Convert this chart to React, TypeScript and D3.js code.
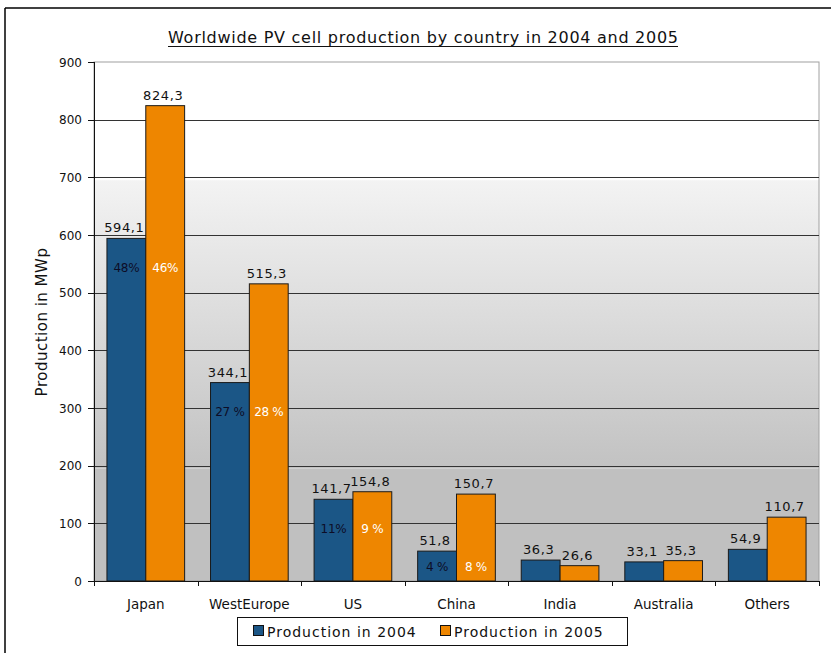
import React from "react";
import * as d3 from "d3";

const countries = ["Japan", "WestEurope", "US", "China", "India", "Australia", "Others"];
const production2004 = [594.1, 344.1, 141.7, 51.8, 36.3, 33.1, 54.9];
const production2005 = [824.3, 515.3, 154.8, 150.7, 26.6, 35.3, 110.7];
const share2004 = ["48%", "27 %", "11%", "4 %", "", "", ""];
const share2005 = ["46%", "28 %", "9 %", "8 %", "", "", ""];
const seriesNames = ["Production in 2004", "Production in 2005"];
const yTicks = [0, 100, 200, 300, 400, 500, 600, 700, 800, 900];

const W = 831;
const H = 653;
const FONT = "'DejaVu Sans', Verdana, sans-serif";
const BLUE = "#1b5686";
const ORANGE = "#ee8600";

const fmt = (v: number) => v.toFixed(1).replace(".", ",");

export default function App() {
  const left = 94;
  const right = 819;
  const top = 62;
  const bottom = 581;

  const x = d3.scaleBand<string>().domain(countries).range([left, right]).paddingInner(0.25).paddingOuter(0.125);
  const xs = d3.scaleBand<number>().domain([0, 1]).range([0, x.bandwidth()]).padding(0);
  const y = d3.scaleLinear().domain([0, 900]).range([bottom, top]);

  const series = [production2004, production2005];
  const shares = [share2004, share2005];
  const step = x.step();
  const bounds = d3.range(countries.length + 1).map((i) => left + i * step);

  return (
    <svg width={W} height={H} style={{ position: "absolute", left: 0, top: 0, display: "block" }}>
      <defs>
        <linearGradient id="plotFill" gradientUnits="userSpaceOnUse" x1={0} y1={y(695)} x2={0} y2={y(195)}>
          <stop offset="0" stopColor="#f3f3f3" />
          <stop offset="1" stopColor="#c2c2c2" />
        </linearGradient>
      </defs>
      <rect x={0} y={0} width={W} height={H} fill="#ffffff" />
      {/* frame */}
      <line x1={5} y1={8} x2={W} y2={8} stroke="#000" strokeWidth={1.5} />
      <line x1={5} y1={8} x2={5} y2={H} stroke="#000" strokeWidth={1.5} />

      {/* title */}
      <text x={168} y={43} fontFamily={FONT} fontSize={16} fill="#111" textLength={510} lengthAdjust="spacing">
        Worldwide PV cell production by country in 2004 and 2005
      </text>
      <line x1={168} x2={678} y1={46.5} y2={46.5} stroke="#111" strokeWidth={1} />

      {/* plot background */}
      <rect x={left} y={top} width={right - left} height={y(695) - top} fill="#ffffff" />
      <rect x={left} y={y(695)} width={right - left} height={y(195) - y(695)} fill="url(#plotFill)" />
      <rect x={left} y={y(195)} width={right - left} height={bottom - y(195)} fill="#c0c0c0" />
      <rect x={left} y={top} width={right - left} height={bottom - top} fill="none" stroke="#a0a0a0" strokeWidth={1} />

      {/* grid */}
      {yTicks.filter((t) => t > 0 && t < 900).map((t) => (
        <line key={t} x1={left} x2={right} y1={Math.round(y(t)) + 0.5} y2={Math.round(y(t)) + 0.5} stroke="#333" strokeWidth={1} />
      ))}

      {/* bars */}
      {countries.map((c, i) => (
        <g key={c}>
          {series.map((s, k) => {
            const bx = (x(c) as number) + (xs(k) as number);
            const by = y(s[i]);
            return (
              <rect key={k} x={bx} y={by} width={xs.bandwidth()} height={bottom - by} fill={k === 0 ? BLUE : ORANGE} stroke="#1a1a1a" strokeWidth={1} />
            );
          })}
        </g>
      ))}

      {/* value labels */}
      {countries.map((c, i) => (
        <g key={c}>
          {series.map((s, k) => {
            const cx = (x(c) as number) + (xs(k) as number) + xs.bandwidth() / 2;
            return (
              <text key={k} x={cx - 2} y={y(s[i]) - 6} textAnchor="middle" fontFamily={FONT} fontSize={13} letterSpacing={0.6} fill="#111">
                {fmt(s[i])}
              </text>
            );
          })}
        </g>
      ))}

      {/* share labels, aligned with the 2004 bar */}
      {countries.map((c, i) => {
        const t0 = y(production2004[i]);
        const ly = t0 + Math.min(29, (bottom - t0) / 2) + 4.5;
        return (
          <g key={c}>
            {shares.map((sh, k) => {
              if (!sh[i]) return null;
              const cx = (x(c) as number) + (xs(k) as number) + xs.bandwidth() / 2;
              return (
                <text key={k} x={cx} y={ly} textAnchor="middle" fontFamily={FONT} fontSize={12} letterSpacing={-0.3} fill={k === 0 ? "#0d0d26" : "#ffffff"}>
                  {sh[i]}
                </text>
              );
            })}
          </g>
        );
      })}

      {/* axes */}
      <line x1={left + 0.5} x2={left + 0.5} y1={top} y2={bottom + 0.5} stroke="#111" strokeWidth={1} />
      <line x1={left} x2={right + 0.5} y1={bottom + 0.5} y2={bottom + 0.5} stroke="#111" strokeWidth={1} />
      {yTicks.map((t) => (
        <g key={t}>
          <line x1={88} x2={left} y1={Math.round(y(t)) + 0.5} y2={Math.round(y(t)) + 0.5} stroke="#111" strokeWidth={1} />
          <text x={82} y={y(t) + 4.5} textAnchor="end" fontFamily={FONT} fontSize={12} fill="#111">
            {t}
          </text>
        </g>
      ))}
      {bounds.map((b, i) => (
        <line key={i} x1={Math.round(b) + 0.5} x2={Math.round(b) + 0.5} y1={bottom} y2={bottom + 5} stroke="#111" strokeWidth={1} />
      ))}
      {countries.map((c) => (
        <text key={c} x={(x(c) as number) + x.bandwidth() / 2} y={609} textAnchor="middle" fontFamily={FONT} fontSize={13.5} fill="#111">
          {c}
        </text>
      ))}
      <text transform={`translate(47,${322}) rotate(-90)`} textAnchor="middle" fontFamily={FONT} fontSize={15} letterSpacing={0.5} fill="#111">
        Production in MWp
      </text>

      {/* legend */}
      <rect x={237.5} y={617.5} width={390} height={28} fill="#ffffff" stroke="#111" strokeWidth={1} />
      {seriesNames.map((n, k) => {
        const lx = k === 0 ? 253 : 440;
        return (
          <g key={n}>
            <rect x={lx + 0.5} y={625.5} width={10} height={10} fill={k === 0 ? BLUE : ORANGE} stroke="#111" strokeWidth={1} />
            <text x={lx + 14} y={637} fontFamily={FONT} fontSize={14} letterSpacing={1} fill="#111">
              {n}
            </text>
          </g>
        );
      })}
    </svg>
  );
}
